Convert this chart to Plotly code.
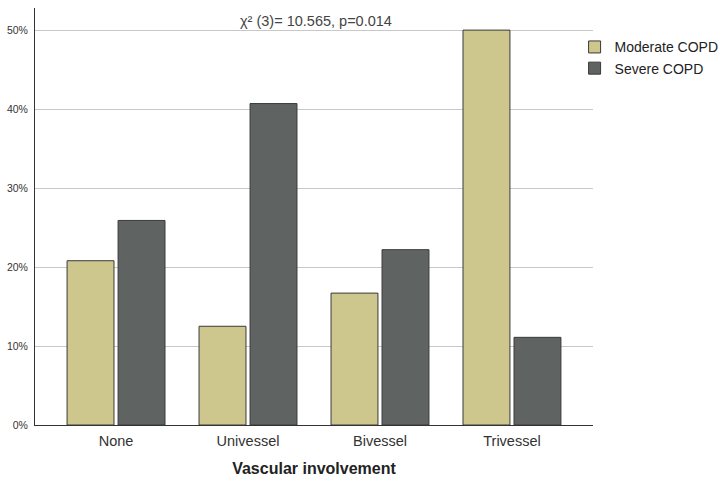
import plotly.graph_objects as go

categories = ["None", "Univessel", "Bivessel", "Trivessel"]
moderate = [20.8, 12.5, 16.7, 50.0]
severe = [25.9, 40.7, 22.2, 11.1]
y_ticks = [0, 10, 20, 30, 40, 50]
y_tick_text = [f"{v}%" for v in y_ticks]

xpos = list(range(len(categories)))

fig = go.Figure()
fig.add_trace(go.Bar(x=xpos, y=moderate, name="Moderate COPD",
                     marker=dict(color="#CDC78E", line=dict(color="#3a3a3a", width=1))))
fig.add_trace(go.Bar(x=xpos, y=severe, name="Severe COPD",
                     marker=dict(color="#5F6462", line=dict(color="#3a3a3a", width=1))))

fig.update_layout(
    width=726, height=485,
    margin=dict(l=35, r=133, t=8, b=60, autoexpand=False),
    paper_bgcolor="white", plot_bgcolor="white",
    barmode="group", bargap=0.227, bargroupgap=0.08,
    font=dict(family="Liberation Sans, Arial", color="#333333"),
    legend=dict(x=0.967, y=0.944, xanchor="left", yanchor="top",
                font=dict(size=14, color="#222222"), tracegroupgap=0,
                bgcolor="rgba(0,0,0,0)"),
    annotations=[dict(text="χ² (3)= 10.565, p=0.014", x=0.504, xref="paper",
                      y=1.0, yref="paper", yanchor="top", showarrow=False,
                      yshift=-3, font=dict(size=14.5, color="#444444"))],
)
fig.update_xaxes(range=[-0.614, 3.614], tickvals=xpos, ticktext=categories,
                 showline=True, linecolor="#333333", linewidth=1,
                 showgrid=False, ticks="", ticklabelstandoff=3,
                 tickfont=dict(size=14.5, color="#333333"),
                 title=dict(text="<b>Vascular involvement</b>", font=dict(size=16, color="#222222"),
                            standoff=14))
fig.update_yaxes(range=[0, 52.8], tickvals=y_ticks, ticktext=y_tick_text,
                 showline=True, linecolor="#333333", linewidth=1,
                 showgrid=True, gridcolor="#c8c8c8", gridwidth=1, zeroline=False,
                 ticks="", ticklabelstandoff=4, tickfont=dict(size=10.5, color="#333333"))

fig.write_html("out.html")
